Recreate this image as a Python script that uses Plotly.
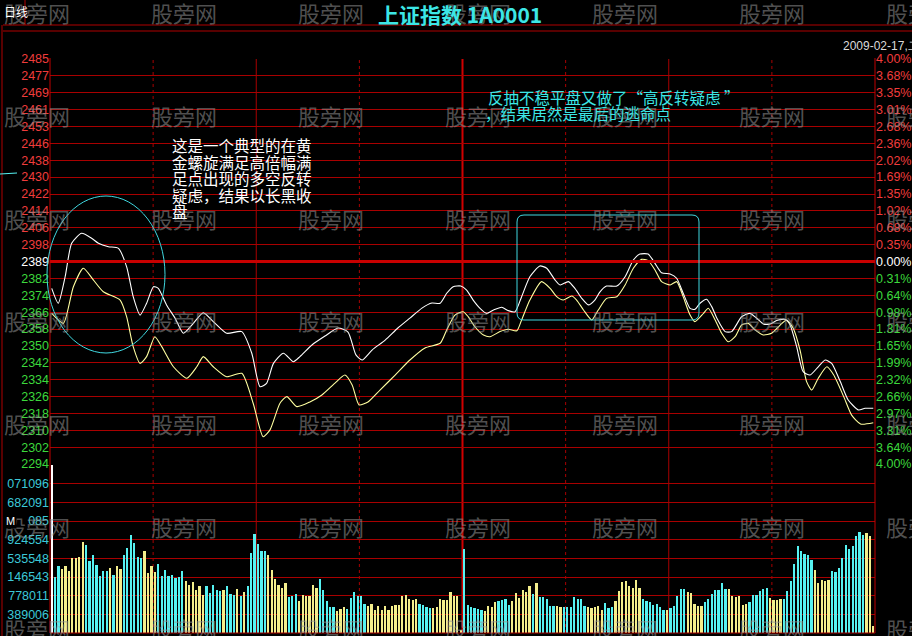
import plotly.graph_objects as go

W, H = 912, 636

# ---------------- data ----------------
price_tick_labels = ["2485", "2477", "2469", "2461", "2453", "2446", "2438", "2430", "2422", "2414", "2406", "2398",
                     "2389", "2382", "2374", "2366", "2358", "2350", "2342", "2334", "2326", "2318", "2310", "2302", "2294"]
pct_tick_labels = ["4.00%", "3.68%", "3.35%", "3.01%", "2.68%", "2.36%", "2.02%", "1.69%", "1.35%", "1.02%", "0.68%",
                   "0.35%", "0.00%", "0.31%", "0.64%", "0.98%", "1.31%", "1.65%", "1.99%", "2.32%", "2.66%", "2.97%",
                   "3.31%", "3.64%", "4.00%"]
vol_tick_labels = ["389006", "778011", "146543", "535548", "924554", "085", "682091", "071096"]

PREV_CLOSE = 2389.4
PRICE_TOP = 2485.0
PRICE_BOTTOM = 2293.8

# index (white) line: minute index, price
white_min = [0, 1.9, 3.9, 5.8, 8.7, 11.6, 13.6, 16.5, 19.4, 21.8, 23.7, 25.7, 27.6, 29.6, 31.0, 33.4, 35.9, 38.3,
             41.2, 44.1, 47.0, 50.9, 55.3, 58.2, 60.6, 62.5, 64.5, 67.4, 70.3, 72.2, 75.7, 79.5, 83.3, 86.2, 88.5,
             90.3, 93.2, 97.0, 100.7, 104.2, 107.7, 110.6, 113.0, 114.9, 116.8, 119.0, 120.7, 122.6, 124.6, 126.5,
             128.5, 130.9, 132.8, 134.8, 136.7, 139.1, 142.0, 144.0, 146.4, 147.9, 150.3, 152.2, 154.2, 156.1,
             158.0, 159.5, 161.4, 164.4, 166.8, 169.2, 171.1, 173.5, 175.5, 177.4, 179.9, 181.8, 183.7, 185.7,
             187.1, 188.6, 190.5, 192.0, 193.5, 195.9, 197.8, 200.7, 203.1, 205.1, 207.0, 209.0, 210.9, 213.3,
             214.8, 216.7, 218.6, 220.6, 223.0, 225.0, 226.9, 229.4, 231.7, 234.7, 236.6, 239]
white_px = [2376.7, 2369.7, 2382.2, 2398.0, 2402.7, 2400.4, 2398.0, 2396.4, 2395.6, 2386.9, 2372.8, 2364.1, 2369.7,
            2377.5, 2376.7, 2368.9, 2362.6, 2355.5, 2360.2, 2365.2, 2361.0, 2355.5, 2356.3, 2346.1, 2330.3, 2331.9,
            2341.3, 2346.1, 2342.1, 2344.5, 2350.0, 2354.2, 2358.0, 2356.1, 2345.3, 2342.9, 2347.6, 2352.3, 2358.0,
            2362.7, 2367.4, 2369.8, 2369.7, 2374.4, 2377.5, 2377.8, 2375.9, 2371.2, 2367.3, 2364.9, 2366.5, 2367.8,
            2366.2, 2365.7, 2372.8, 2382.2, 2387.3, 2386.2, 2380.7, 2378.3, 2379.9, 2376.7, 2372.0, 2368.9, 2371.2,
            2375.1, 2377.8, 2377.8, 2382.2, 2390.1, 2392.9, 2392.9, 2388.5, 2384.1, 2383.5, 2381.5, 2374.4, 2367.3,
            2366.8, 2369.7, 2371.6, 2368.1, 2362.6, 2356.3, 2356.3, 2363.3, 2364.9, 2362.6, 2359.9, 2359.9, 2361.5,
            2362.1, 2359.4, 2349.2, 2337.4, 2335.8, 2339.7, 2342.9, 2341.3, 2332.7, 2324.0, 2319.3, 2320.1, 2320.1]

# unweighted (yellow) line
yellow_min = [0, 3.4, 6.3, 9.2, 12.1, 15.0, 19.9, 21.8, 23.7, 25.7, 27.6, 30.0, 32.0, 35.4, 39.3, 42.2, 44.1, 47.0,
              50.9, 55.3, 58.6, 61.5, 63.5, 66.4, 68.4, 71.3, 75.1, 78.6, 82.4, 85.3, 87.4, 89.4, 92.0, 95.5, 99.9,
              104.2, 108.6, 113.0, 114.9, 117.3, 119.7, 121.2, 123.1, 125.6, 127.5, 130.4, 132.8, 135.3, 136.7,
              139.1, 142.5, 145.0, 146.9, 148.8, 151.3, 152.7, 154.7, 157.1, 159.0, 161.4, 164.4, 166.8, 169.2,
              171.6, 173.5, 175.5, 177.4, 179.9, 181.8, 183.7, 185.7, 187.1, 189.6, 191.0, 193.0, 194.9, 196.8,
              198.8, 200.7, 202.6, 204.6, 207.0, 209.4, 211.9, 213.8, 215.7, 217.7, 219.6, 221.1, 223.0, 225.5,
              227.5, 230.4, 232.7, 235.3, 239]
yellow_px = [2364.9, 2360.2, 2377.5, 2386.2, 2380.7, 2375.1, 2371.2, 2363.3, 2349.2, 2341.3, 2344.5, 2353.9, 2349.2,
             2339.7, 2334.3, 2339.7, 2344.5, 2339.7, 2335.0, 2336.6, 2322.5, 2306.7, 2309.9, 2322.5, 2325.6, 2320.9,
             2323.1, 2326.4, 2332.0, 2335.8, 2331.1, 2321.7, 2323.1, 2328.7, 2335.8, 2342.9, 2348.6, 2350.8, 2357.1,
             2364.1, 2365.7, 2363.3, 2358.6, 2354.7, 2353.9, 2356.3, 2357.4, 2356.7, 2361.8, 2371.2, 2379.9, 2376.7,
             2372.8, 2371.2, 2373.1, 2371.2, 2366.5, 2361.8, 2366.5, 2372.0, 2372.8, 2378.3, 2386.2, 2390.4, 2389.8,
             2385.4, 2379.9, 2378.3, 2379.9, 2372.8, 2364.1, 2361.0, 2364.9, 2367.3, 2361.8, 2355.5, 2351.5, 2353.9,
             2359.4, 2360.2, 2357.1, 2354.7, 2355.5, 2359.4, 2361.8, 2357.9, 2347.6, 2332.7, 2328.7, 2334.3, 2339.7,
             2335.8, 2325.6, 2316.9, 2312.7, 2313.3]

# volume per minute (in grid steps), morning and afternoon sessions
vol_am = [10.0, 3.0, 3.61, 3.43, 3.61, 3.30, 4.02, 4.02, 4.07, 4.86,
          4.73, 3.84, 4.20, 3.66, 3.07, 3.30, 3.30, 3.48, 3.13, 3.57,
          3.43, 4.20, 4.55, 5.27, 4.82, 4.07, 4.02, 4.38, 3.21, 3.57,
          3.25, 3.71, 3.07, 3.39, 3.04, 3.13, 2.95, 3.0, 3.30, 2.77,
          2.59, 2.71, 2.32, 2.5, 2.05, 2.54, 2.14, 2.59, 2.29, 2.23,
          2.32, 2.5, 2.11, 2.05, 2.36, 2.0, 2.18, 2.54, 4.29, 5.32,
          4.79, 4.38, 4.41, 4.20, 3.39, 2.89, 2.59, 2.41, 2.68, 1.93,
          1.96, 2.11, 1.70, 2.05, 1.96, 2.0, 2.59, 2.41, 2.89, 2.29,
          1.70, 1.39, 1.39, 1.16, 1.29, 1.39, 1.29, 1.88, 2.18, 2.0,
          2.0, 1.57, 1.46, 1.57, 1.21, 1.43, 1.21, 1.43, 1.21, 1.46,
          1.5, 1.52, 2.0, 2.05, 1.82, 1.79, 1.82, 1.57, 1.52, 1.39,
          1.34, 1.34, 1.39, 1.82, 1.75, 1.75, 2.18, 2.0, 1.96, 0.18]
side_am = ("OBBSSSSSSS" "BBBBBBBSBS" "SBBBBBBSSS" "SBBBBBBBBS" "SSSSSBBBBB" "SBBBSBSBBB"
           "BBBSSSSSSB" "BBSSSSSSBB" "BBBSSSBBBB" "BBSSSSSSSS" "SSSSSSSBBB" "BSSSSSSSSS")
vol_pm = [4.5, 1.52, 1.39, 1.34, 1.29, 1.25, 1.16, 1.46, 1.39, 1.64,
          1.70, 1.79, 1.82, 1.52, 1.70, 2.14, 1.88, 2.29, 2.18, 2.54,
          2.11, 2.68, 1.93, 1.93, 1.82, 1.46, 1.46, 1.46, 1.39, 1.39,
          1.39, 1.39, 1.93, 1.82, 1.82, 1.46, 1.39, 1.34, 1.39, 1.46,
          1.25, 1.61, 1.34, 1.39, 1.70, 2.23, 2.71, 2.77, 2.54, 2.41,
          2.86, 2.41, 1.82, 1.70, 1.64, 1.52, 1.57, 1.39, 1.25, 1.25,
          1.34, 1.46, 2.0, 2.36, 2.36, 2.18, 2.14, 1.57, 1.46, 1.46,
          1.64, 1.82, 2.11, 2.29, 2.29, 2.68, 2.36, 2.36, 2.0, 1.93,
          2.0, 1.52, 1.57, 1.64, 2.05, 2.05, 2.23, 2.36, 2.41, 1.88,
          1.79, 1.79, 1.82, 1.82, 2.23, 2.77, 3.71, 4.68, 4.38, 4.23,
          4.20, 3.93, 3.39, 2.68, 2.82, 2.77, 2.86, 3.30, 3.25, 3.48,
          4.02, 4.73, 4.5, 4.64, 5.18, 5.39, 5.27, 5.36, 5.21, 0.36]
side_pm = ("BBBBBBSSSS" "BBBBSSSSSS" "BSBBBBBSSB" "BBBBBBSSSS" "SBBBSSSSSS" "SSBBBBBBBS"
           "BBBBBSSSSS" "BBBBBBBSSS" "SSSBBBBBBS" "SSSBBBBBBB" "BBSSSSSBBB" "BBBBBBBSSS")

title_text = "上证指数 1A0001"
date_text = "2009-02-17,二"
note1_lines = ["这是一个典型的在黄", "金螺旋满足高倍幅满", "足点出现的多空反转", "疑虑，结果以长黑收", "盘"]
note2_lines = ["反抽不稳平盘又做了“高反转疑虑 ”", "，结果居然是最后的逃命点"]
watermark = "股旁网"

# ---------------- layout helpers ----------------
def fx(px):
    return px / W


def fy(py):
    return 1 - py / H


X_L, X_R = 50, 875
P_TOP, P_BOT = 59, 464
V_TOP, V_BOT = 465, 633
N_MIN = 240

scale = (P_BOT - P_TOP) / (PRICE_TOP - PRICE_BOTTOM)
n_ticks = len(price_tick_labels)
tick_vals = [PRICE_TOP - k * (PRICE_TOP - PRICE_BOTTOM) / (n_ticks - 1) for k in range(n_ticks)]
mid = n_ticks // 2

RED_T, GREEN_T, WHITE_T = "#F03C3C", "#3CD83C", "#FFFFFF"


def colored(labels):
    out = []
    for k, t in enumerate(labels):
        c = RED_T if k < mid else (WHITE_T if k == mid else GREEN_T)
        out.append(f'<span style="color:{c}">{t}</span>')
    return out


GRID = "#A80000"
CYAN = "#56F2F2"
YELLOW = "#F4EE8C"
side_color = {"O": "#FFFFFF", "B": CYAN, "S": YELLOW}

vols = vol_am + vol_pm
sides = side_am + side_pm
bar_x = list(range(len(vols)))

fig = go.Figure()

fig.add_trace(go.Bar(x=bar_x, y=vols, marker=dict(color=[side_color[s] for s in sides], line=dict(width=0)),
                     width=0.66, xaxis="x", yaxis="y3", showlegend=False, hoverinfo="skip"))
fig.add_trace(go.Scatter(x=yellow_min, y=yellow_px, mode="lines", line=dict(color="#FFFFA0", width=1.1,
                         shape="spline", smoothing=0.6), xaxis="x", yaxis="y", showlegend=False, hoverinfo="skip"))
fig.add_trace(go.Scatter(x=white_min, y=white_px, mode="lines", line=dict(color="#FFFFFF", width=1.1,
                         shape="spline", smoothing=0.6), xaxis="x", yaxis="y", showlegend=False, hoverinfo="skip"))
# invisible trace to activate right axis
fig.add_trace(go.Scatter(x=[0], y=[PREV_CLOSE], mode="markers", marker=dict(opacity=0), xaxis="x", yaxis="y2",
                         showlegend=False, hoverinfo="skip"))

NUM_FONT = "Liberation Sans, Arial, sans-serif"
CJK_FONT = "Noto Sans CJK SC, sans-serif"

fig.update_layout(
    template="none",
    width=W, height=H, margin=dict(l=0, r=0, t=0, b=0, pad=0, autoexpand=False),
    paper_bgcolor="#000000", plot_bgcolor="#000000",
    bargap=0,
    xaxis=dict(domain=[fx(X_L), fx(X_R)], range=[-0.5, N_MIN - 0.5], visible=False, fixedrange=True,
               automargin=False),
    yaxis=dict(domain=[fy(P_BOT + 0.5), fy(P_TOP - 0.5)],
               range=[PRICE_BOTTOM - 0.5 / scale, PRICE_TOP + 0.5 / scale],
               tickvals=tick_vals, ticktext=colored(price_tick_labels),
               tickfont=dict(family=NUM_FONT, size=12.5), ticks="", showgrid=True, gridcolor=GRID, gridwidth=1,
               zeroline=False, showline=False, anchor="x", side="left", fixedrange=True, automargin=False),
    yaxis2=dict(overlaying="y", side="right", anchor="x",
                range=[PRICE_BOTTOM - 0.5 / scale, PRICE_TOP + 0.5 / scale],
                tickvals=tick_vals, ticktext=colored(pct_tick_labels),
                tickfont=dict(family=NUM_FONT, size=12.5), ticks="", showgrid=False, zeroline=False,
                showline=False, fixedrange=True, automargin=False),
    yaxis3=dict(domain=[fy(V_BOT), fy(V_TOP)], range=[0, 9], anchor="x",
                tickvals=list(range(1, 9)), ticktext=vol_tick_labels,
                tickfont=dict(family=NUM_FONT, size=12.5, color="#3CC8D8"), ticks="",
                showgrid=True, gridcolor=GRID, gridwidth=1, zeroline=False, showline=False, fixedrange=True,
                automargin=False),
)

shapes = []
# thick previous-close line
shapes.append(dict(type="line", xref="paper", yref="y", x0=fx(X_L), x1=fx(X_R), y0=PREV_CLOSE, y1=PREV_CLOSE,
                   line=dict(color="#C80000", width=3)))
# volume pane bottom border
shapes.append(dict(type="line", xref="paper", yref="paper", x0=fx(X_L), x1=fx(X_R), y0=fy(V_BOT), y1=fy(V_BOT),
                   line=dict(color=GRID, width=1)))
# vertical time lines
for m in range(30, N_MIN, 30):
    solid = (m % 60 == 0)
    shapes.append(dict(type="line", xref="x", yref="paper", x0=m - 0.5, x1=m - 0.5, y0=fy(V_BOT), y1=fy(P_TOP),
                       line=dict(color="#D00000" if m == 120 else GRID, width=2 if m == 120 else 1,
                                 dash="solid" if solid else "dot"), layer="below"))
# pane side borders
for xp in (X_L, X_R):
    shapes.append(dict(type="line", xref="paper", yref="paper", x0=fx(xp), x1=fx(xp), y0=fy(V_BOT),
                       y1=fy(P_TOP - 1), line=dict(color="#C00000", width=1)))
# header lines and left strip
for yp in (25, 31):
    shapes.append(dict(type="line", xref="paper", yref="paper", x0=fx(3), x1=1, y0=fy(yp), y1=fy(yp),
                       line=dict(color="#B00000", width=1)))
shapes.append(dict(type="line", xref="paper", yref="paper", x0=fx(2), x1=fx(2), y0=0, y1=fy(25),
                   line=dict(color="#B00000", width=1)))
shapes.append(dict(type="line", xref="paper", yref="paper", x0=fx(25), x1=fx(25), y0=fy(25), y1=1,
                   line=dict(color="#B00000", width=1)))
shapes.append(dict(type="line", xref="paper", yref="paper", x0=0, x1=fx(17), y0=fy(174), y1=fy(173),
                   line=dict(color=CYAN, width=1)))
# annotation ellipse
shapes.append(dict(type="circle", xref="paper", yref="paper", x0=fx(47), x1=fx(165), y0=fy(353), y1=fy(196),
                   line=dict(color="#40D8E0", width=1)))
# annotation rounded rectangle
rx0, rx1, ry0, ry1, rr = 517, 699, 215, 320, 7
path = (f"M {fx(rx0 + rr)} {fy(ry0)} L {fx(rx1 - rr)} {fy(ry0)} Q {fx(rx1)} {fy(ry0)} {fx(rx1)} {fy(ry0 + rr)} "
        f"L {fx(rx1)} {fy(ry1 - rr)} Q {fx(rx1)} {fy(ry1)} {fx(rx1 - rr)} {fy(ry1)} "
        f"L {fx(rx0 + rr)} {fy(ry1)} Q {fx(rx0)} {fy(ry1)} {fx(rx0)} {fy(ry1 - rr)} "
        f"L {fx(rx0)} {fy(ry0 + rr)} Q {fx(rx0)} {fy(ry0)} {fx(rx0 + rr)} {fy(ry0)} Z")
shapes.append(dict(type="path", xref="paper", yref="paper", path=path, line=dict(color="#40D8E0", width=1)))
fig.update_layout(shapes=shapes)

ann = []
# watermarks
for ry in (12, 115, 218, 320, 423, 526, 628):
    for cx in (2, 149, 296, 443, 590, 737, 884):
        ann.append(dict(text=watermark, xref="paper", yref="paper", x=fx(cx), y=fy(ry), xanchor="left",
                        yanchor="middle", showarrow=False,
                        font=dict(family=CJK_FONT, size=22, color="rgba(150,150,150,0.55)")))
ann.append(dict(text=title_text, xref="paper", yref="paper", x=fx(460), y=fy(14), xanchor="center",
                yanchor="middle", showarrow=False,
                font=dict(family=CJK_FONT, size=21, color="#3CE6E6", weight="bold")))
ann.append(dict(text="日线", xref="paper", yref="paper", x=fx(2), y=fy(12), xanchor="left", yanchor="middle",
                showarrow=False, font=dict(family=CJK_FONT, size=12, color="#FFFFFF")))
ann.append(dict(text=date_text, xref="paper", yref="paper", x=fx(841), y=fy(46), xanchor="left",
                yanchor="middle", showarrow=False, font=dict(family=NUM_FONT, size=12, color="#DADADA")))
ann.append(dict(text="M", xref="paper", yref="paper", x=fx(4), y=fy(521), xanchor="left", yanchor="middle",
                showarrow=False, bgcolor="#000000", font=dict(family=NUM_FONT, size=11, color="#FFFFFF")))
for k, line in enumerate(note1_lines):
    ann.append(dict(text=line, xref="paper", yref="paper", x=fx(170), y=fy(145 + k * 16.5), xanchor="left",
                    yanchor="middle", showarrow=False,
                    font=dict(family=CJK_FONT, size=15.5, color="#FFFFFF")))
for k, line in enumerate(note2_lines):
    ann.append(dict(text=line, xref="paper", yref="paper", x=fx(486 - 3 * k), y=fy(97 + k * 16.5),
                    xanchor="left", yanchor="middle", showarrow=False,
                    font=dict(family=CJK_FONT, size=15.5, color="#3CE6E6")))
fig.update_layout(annotations=ann)

fig.write_html("out.html", config={"displayModeBar": False},
               post_script="document.body.style.margin='0';document.body.style.background='#000';"
                           "document.body.style.overflow='hidden';")
